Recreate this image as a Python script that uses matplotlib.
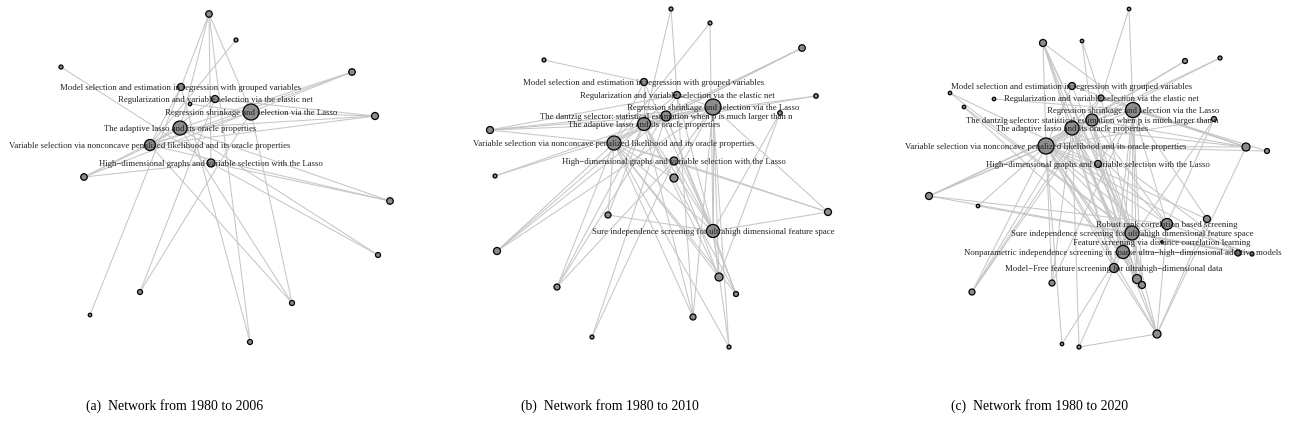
import matplotlib
matplotlib.use("Agg")
import matplotlib.pyplot as plt

plt.rcParams['font.family'] = ['Liberation Serif', 'DejaVu Serif']

# ---------------- data ----------------
captions = ["(a)  Network from 1980 to 2006",
            "(b)  Network from 1980 to 2010",
            "(c)  Network from 1980 to 2020"]

T_MODEL = "Model selection and estimation in regression with grouped variables"
T_REG = "Regularization and variable selection via the elastic net"
T_LASSO = "Regression shrinkage and selection via the Lasso"
T_DANTZIG = "The dantzig selector: statistical estimation when p is much larger than n"
T_ADAPT = "The adaptive lasso and its oracle properties"
T_VAR = "Variable selection via nonconcave penalized likelihood and its oracle properties"
T_HIGH = "High\u2212dimensional graphs and variable selection with the Lasso"
T_SIS = "Sure independence screening for ultrahigh dimensional feature space"
T_ROBUST = "Robust rank correlation based screening"
T_DCORR = "Feature screening via distance correlation learning"
T_NONPAR = "Nonparametric independence screening in sparse ultra\u2212high\u2212dimensional additive models"
T_MFREE = "Model\u2212Free feature screening for ultrahigh\u2212dimensional data"

# panel (a): node labels, node weights (diameter), edges
a_labels = ["", "", "", "", T_MODEL, T_REG, "", T_LASSO, "", T_ADAPT, T_VAR, T_HIGH,
            "", "", "", "", "", "", ""]
a_size = [6.5, 4, 4, 6.5, 7, 7, 3.5, 16, 7, 14, 11, 8, 6.5, 6.5, 5, 5, 5, 3.5, 5]
a_edges = [(0, 7), (0, 9), (0, 11), (0, 18), (4, 18), (1, 10), (2, 11),
           (3, 7), (3, 9), (3, 10), (8, 7), (8, 10), (8, 9), (8, 5),
           (12, 10), (12, 9), (12, 7), (12, 11), (13, 10), (13, 11), (13, 9),
           (14, 9), (14, 11), (15, 7), (15, 5), (16, 9), (16, 10), (17, 4),
           (7, 16), (4, 10), (7, 10), (9, 10), (5, 10), (7, 6), (0, 4)]

# panel (b)
b_labels = ["", "", "", "", T_MODEL, T_REG, "", T_LASSO, T_DANTZIG, "", T_ADAPT, "",
            T_VAR, T_HIGH, "", "", "", "", T_SIS, "", "", "", "", "", "", ""]
b_size = [4, 4, 6.5, 4, 7, 7, 4.5, 16, 10, 4.5, 13, 7, 14, 8, 8, 4, 7, 6, 13, 7, 8,
          6, 5, 6, 4, 4]
b_edges = [(0, 10), (0, 23), (1, 18), (1, 12), (2, 12), (2, 10), (2, 8), (3, 4),
           (6, 10), (6, 8), (9, 18), (9, 20), (11, 7), (11, 8), (11, 10), (11, 12),
           (11, 5), (15, 7), (15, 8), (16, 7), (16, 18), (16, 12), (16, 13),
           (17, 18), (17, 12), (17, 10), (19, 12), (19, 10), (19, 8), (19, 7),
           (21, 12), (21, 10), (21, 13), (21, 5), (24, 13), (24, 8), (23, 12),
           (23, 10), (23, 7), (25, 12), (25, 7), (25, 18), (22, 12), (22, 10),
           (22, 18), (22, 8), (20, 7), (20, 12), (20, 10), (20, 13), (20, 18),
           (14, 7), (14, 12), (18, 7), (18, 12), (18, 10), (18, 8), (18, 13),
           (18, 5), (18, 4), (4, 12), (4, 10), (5, 7), (5, 12), (8, 7), (10, 12),
           (13, 7), (13, 12), (10, 7)]

# panel (c)
c_labels = ["", "", "", "", "", T_MODEL, "", "", T_REG, "", T_LASSO, T_DANTZIG, "",
            T_ADAPT, "", "", T_VAR, T_HIGH, "", "", T_ROBUST, "", T_SIS, T_DCORR,
            T_NONPAR, "", "", T_MFREE, "", "", "", "", "", "", ""]
c_size = [3.5, 7, 3.5, 5, 4, 7, 3.5, 3.5, 6, 3.5, 15, 12, 5, 14, 8, 5, 16, 7, 7, 3.5,
          11, 7, 14, 2.5, 13, 6, 4, 9, 9, 7, 6, 6, 8, 3.5, 4]
c_edges = [(0, 10), (0, 8), (1, 13), (1, 10), (1, 16), (1, 22), (1, 27), (1, 24),
           (1, 17), (2, 8), (2, 17), (3, 16), (3, 13), (4, 16), (4, 13), (6, 17),
           (6, 22), (7, 10), (9, 22), (9, 24), (12, 16), (12, 24), (12, 20),
           (14, 16), (14, 13), (14, 10), (14, 8), (14, 5), (14, 11), (14, 32),
           (15, 16), (15, 10), (18, 16), (18, 13), (18, 11), (18, 10), (18, 20),
           (18, 22), (19, 16), (19, 25), (21, 16), (21, 10), (21, 32), (25, 13),
           (25, 16), (25, 22), (25, 24), (26, 20), (26, 22), (28, 16), (28, 13),
           (28, 10), (28, 22), (29, 16), (29, 13), (29, 22), (29, 24), (30, 16),
           (30, 10), (30, 13), (31, 16), (31, 13), (31, 11), (31, 8), (32, 22),
           (32, 24), (32, 27), (32, 20), (32, 16), (32, 34), (32, 17), (33, 16),
           (33, 22), (34, 27), (34, 13), (22, 16), (22, 10), (22, 13), (24, 16),
           (24, 10), (20, 16), (20, 10), (27, 16), (27, 13), (23, 16), (17, 16),
           (17, 10), (13, 16), (5, 16), (8, 16), (11, 16), (11, 10), (22, 17),
           (24, 22), (20, 22), (27, 22), (5, 22), (8, 22), (20, 13), (24, 13),
           (22, 11), (24, 11), (27, 10), (20, 11), (28, 11), (29, 10)]

# ---------------- layout (pixel positions within each panel) ----------------
a_x = [209, 236, 61, 352, 181, 215, 190, 251, 375, 180, 150, 211, 84, 390, 378, 140, 292, 90, 250]
a_y = [15, 41, 68, 73, 88, 100, 105, 113, 117, 129, 146, 164, 178, 202, 256, 293, 304, 316, 343]

b_x = [671, 710, 802, 544, 644, 677, 816, 713, 666, 780, 644, 490, 614, 674, 674, 495,
       828, 608, 713, 497, 719, 557, 736, 693, 592, 729]
b_y = [10, 24, 49, 61, 83, 96, 97, 108, 117, 114, 125, 131, 144, 162, 179, 177, 213,
       216, 232, 252, 278, 288, 295, 318, 338, 348]
b_x = [v - 430 for v in b_x]

c_x = [1129, 1043, 1082, 1185, 1220, 1072, 950, 994, 1101, 964, 1133, 1092, 1214, 1072,
       1246, 1267, 1046, 1098, 929, 978, 1167, 1207, 1132, 1162, 1123, 1238, 1252, 1114,
       1137, 1142, 1052, 972, 1157, 1062, 1079]
c_y = [10, 44, 42, 62, 59, 87, 94, 100, 99, 108, 111, 121, 120, 129, 148, 152, 147, 165,
       197, 207, 225, 220, 234, 243, 253, 254, 255, 269, 280, 286, 284, 293, 335, 345, 348]
c_x = [v - 860 for v in c_x]

panels = [(a_x, a_y, a_size, a_labels, a_edges),
          (b_x, b_y, b_size, b_labels, b_edges),
          (c_x, c_y, c_size, c_labels, c_edges)]

W, H, DPI = 1291, 431, 100
fig = plt.figure(figsize=(W / DPI, H / DPI), dpi=DPI)
fig.patch.set_facecolor('white')

panel_left = [0, 430, 860]
caption_x = [175, 610, 1040]

for k, (xs, ys, sz, labs, edges) in enumerate(panels):
    ax = fig.add_axes([panel_left[k] / W, 0, 430 / W, 1])
    ax.set_xlim(0, 430)
    ax.set_ylim(H, 0)
    ax.axis('off')
    for i, j in edges:
        ax.plot([xs[i], xs[j]], [ys[i], ys[j]], color='#c6c6c6', lw=0.75,
                zorder=1, solid_capstyle='round')
    s = [(d * 72 / DPI) ** 2 for d in sz]
    ax.scatter(xs, ys, s=s, c='#8c8c8c', edgecolors='#000000', linewidths=0.9,
               zorder=2)
    for x, y, t in zip(xs, ys, labs):
        if t:
            ax.text(x, y, t, ha='center', va='center', fontsize=6.3,
                    color='#222222', zorder=3)

for k, cap in enumerate(captions):
    fig.text(caption_x[k] / W, 1 - 406 / H, cap, ha='center', va='center',
             fontsize=9.9, color='black')

fig.savefig('out.png', dpi=DPI)
